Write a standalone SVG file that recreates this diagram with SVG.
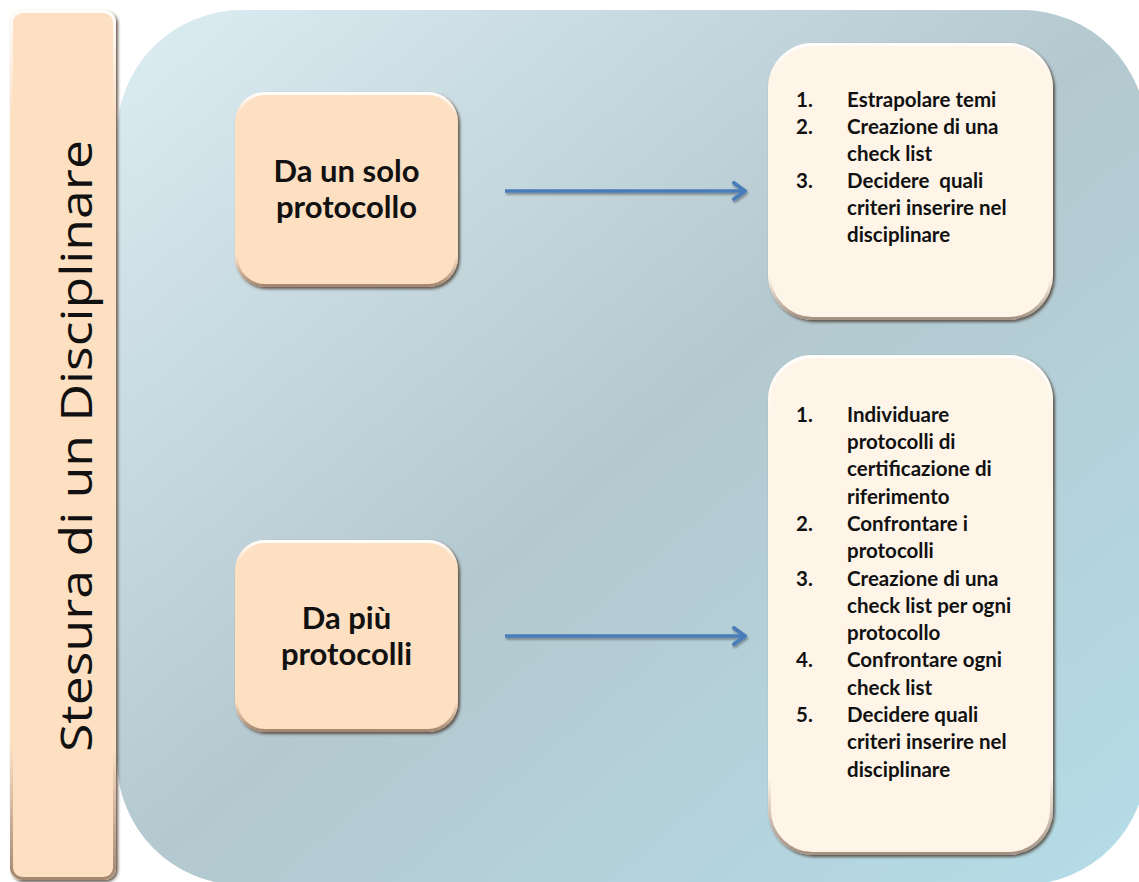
<svg xmlns="http://www.w3.org/2000/svg" width="1139" height="882" viewBox="0 0 1139 882">
  <defs>
    <linearGradient id="bg" x1="0" y1="0" x2="1" y2="1">
      <stop offset="0" stop-color="#dcedf3"/>
      <stop offset="0.5" stop-color="#b4c8cf"/>
      <stop offset="1" stop-color="#b4dde8"/>
    </linearGradient>
    <linearGradient id="rim" x1="0" y1="0" x2="0" y2="1">
      <stop offset="0" stop-color="#ffffff" stop-opacity="0.95"/>
      <stop offset="0.12" stop-color="#ffffff" stop-opacity="0"/>
      <stop offset="0.85" stop-color="#5a4030" stop-opacity="0"/>
      <stop offset="1" stop-color="#5a4030" stop-opacity="0.55"/>
    </linearGradient>
    <filter id="bevel" x="-10%" y="-10%" width="120%" height="120%">
      <feDropShadow dx="2" dy="2" stdDeviation="1.5" flood-color="#3b2a1c" flood-opacity="0.75"/>
    </filter>
    <filter id="soft" filterUnits="userSpaceOnUse" x="480" y="0" width="300" height="882">
      <feDropShadow dx="1" dy="2" stdDeviation="1.2" flood-color="#000" flood-opacity="0.35"/>
    </filter>
    <marker id="head" markerUnits="userSpaceOnUse" markerWidth="24" markerHeight="24" refX="14" refY="10" orient="auto">
      <path d="M3,2 L14,10 L3,18" fill="none" stroke="#4a7dba" stroke-width="4" stroke-linecap="round" stroke-linejoin="round"/>
    </marker>
    <style>
      .peach { fill: #fddfc2; filter: url(#bevel); }
      .cream { fill: #fef5e8; filter: url(#bevel); }
      .rim { fill: none; stroke: url(#rim); stroke-width: 3; }
      .node-label { font-family: Lato, "Liberation Sans", sans-serif; font-weight: bold; font-size: 31px; fill: #111; text-anchor: middle; }
      .item { font-family: Lato, "Liberation Sans", sans-serif; font-weight: bold; font-size: 20.5px; fill: #111; }
      .title { font-family: "Open Sans", "Liberation Sans", sans-serif; font-size: 43px; fill: #111; text-anchor: middle; }
      .link { stroke: #4a7dba; stroke-width: 3.5; fill: none; marker-end: url(#head); filter: url(#soft); }
    </style>
  </defs>

  <!-- backdrop panel -->
  <rect x="117" y="10" width="1030" height="875" rx="125" fill="url(#bg)"/>

  <!-- vertical title bar -->
  <g id="title-bar">
    <rect class="peach" x="10" y="10" width="106" height="870" rx="12"/>
    <rect class="rim" x="11.5" y="11.5" width="103" height="867" rx="11"/>
    <text class="title" transform="translate(92,446) rotate(-90)" textLength="612" lengthAdjust="spacingAndGlyphs">Stesura di un Disciplinare</text>
  </g>

  <!-- source nodes -->
  <g id="node-single">
    <rect class="peach" x="235" y="92" width="223" height="195" rx="30"/>
    <rect class="rim" x="236.5" y="93.5" width="220" height="192" rx="28.5"/>
    <text class="node-label" x="346.5" y="181.5">Da un solo</text>
    <text class="node-label" x="346.5" y="217.5">protocollo</text>
  </g>

  <g id="node-multiple">
    <rect class="peach" x="235" y="540" width="223" height="192" rx="30"/>
    <rect class="rim" x="236.5" y="541.5" width="220" height="189" rx="28.5"/>
    <text class="node-label" x="346.5" y="628.5">Da più</text>
    <text class="node-label" x="346.5" y="665">protocolli</text>
  </g>

  <!-- step lists -->
  <g id="steps-single">
    <rect class="cream" x="768" y="43" width="285" height="277" rx="45"/>
    <rect class="rim" x="769.5" y="44.5" width="282" height="274" rx="43.5"/>
    <g class="item">
      <text x="796" y="107.3">1.</text><text x="847" y="107.3">Estrapolare temi</text>
      <text x="796" y="134.2">2.</text><text x="847" y="134.2">Creazione di una</text>
      <text x="847" y="161.1">check list</text>
      <text x="796" y="188">3.</text><text x="847" y="188" xml:space="preserve">Decidere  quali</text>
      <text x="847" y="214.9">criteri inserire nel</text>
      <text x="847" y="241.8">disciplinare</text>
    </g>
  </g>

  <g id="steps-multiple">
    <rect class="cream" x="768" y="355" width="285" height="500" rx="45"/>
    <rect class="rim" x="769.5" y="356.5" width="282" height="497" rx="43.5"/>
    <g class="item">
      <text x="796" y="421.7">1.</text><text x="847" y="421.7">Individuare</text>
      <text x="847" y="449">protocolli di</text>
      <text x="847" y="476.3">certificazione di</text>
      <text x="847" y="503.6">riferimento</text>
      <text x="796" y="530.9">2.</text><text x="847" y="530.9">Confrontare i</text>
      <text x="847" y="558.2">protocolli</text>
      <text x="796" y="585.5">3.</text><text x="847" y="585.5">Creazione di una</text>
      <text x="847" y="612.8">check list per ogni</text>
      <text x="847" y="640.1">protocollo</text>
      <text x="796" y="667.4">4.</text><text x="847" y="667.4">Confrontare ogni</text>
      <text x="847" y="694.7">check list</text>
      <text x="796" y="722">5.</text><text x="847" y="722">Decidere quali</text>
      <text x="847" y="749.3">criteri inserire nel</text>
      <text x="847" y="776.6">disciplinare</text>
    </g>
  </g>

  <!-- connectors -->
  <g id="connectors">
    <line class="link" x1="505" y1="191" x2="745" y2="191"/>
    <line class="link" x1="505" y1="636" x2="745" y2="636"/>
  </g>
</svg>
